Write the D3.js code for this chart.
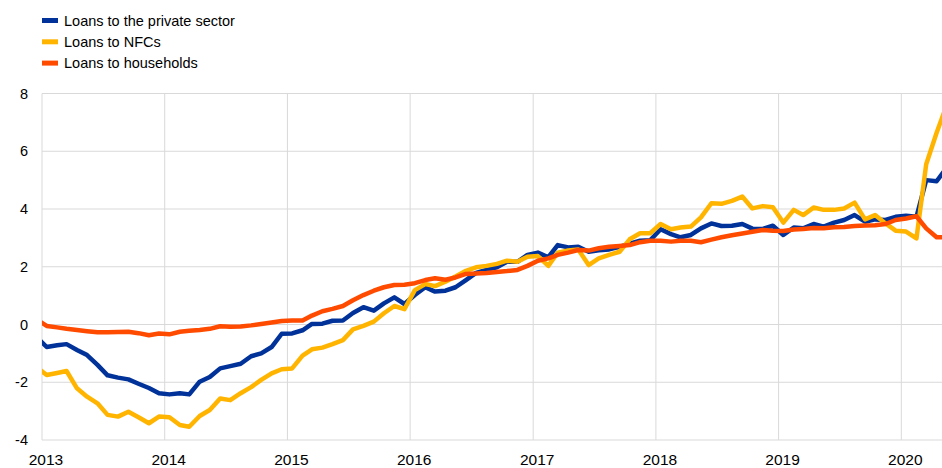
<!DOCTYPE html>
<html>
<head>
<meta charset="utf-8">
<script src="https://cdn.jsdelivr.net/npm/d3@7/dist/d3.min.js"></script>
<style>
  body { margin: 0; background: #fff; }
  svg { display: block; font-family: "Liberation Sans", Arial, sans-serif; }
</style>
</head>
<body>
<svg id="chart"></svg>
<script>
// monthly data, first value is Dec 2012, last is May 2020
const startMonth = new Date(2012, 11, 15);
const seriesNames = ['Loans to the private sector', 'Loans to NFCs', 'Loans to households'];
const seriesColors = ['#003299', '#ffb400', '#ff4b00'];
const yTicks = [-4, -2, 0, 2, 4, 6, 8];
const yearTicks = [2013, 2014, 2015, 2016, 2017, 2018, 2019, 2020];

const privateSector = [-0.42,
  -0.78, -0.72, -0.68, -0.88, -1.06, -1.40, -1.76, -1.84, -1.90, -2.05, -2.20, -2.38,
  -2.42, -2.38, -2.42, -1.98, -1.82, -1.52, -1.44, -1.36, -1.10, -1.00, -0.78, -0.32,
  -0.31, -0.20, 0.02, 0.03, 0.13, 0.14, 0.40, 0.60, 0.48, 0.73, 0.94, 0.71,
  1.02, 1.29, 1.14, 1.17, 1.29, 1.54, 1.79, 1.89, 1.98, 2.17, 2.17, 2.41,
  2.49, 2.33, 2.75, 2.67, 2.69, 2.52, 2.57, 2.60, 2.69, 2.80, 2.90, 2.92,
  3.30, 3.13, 3.02, 3.10, 3.33, 3.50, 3.41, 3.42, 3.48, 3.32, 3.31, 3.42,
  3.10, 3.36, 3.33, 3.48, 3.39, 3.53, 3.62, 3.79, 3.56, 3.64, 3.62, 3.73,
  3.77, 3.73, 5.00, 4.96, 5.43];

const nfcs = [-1.47,
  -1.75, -1.68, -1.61, -2.21, -2.50, -2.73, -3.13, -3.19, -3.02, -3.21, -3.42, -3.19,
  -3.21, -3.48, -3.54, -3.17, -2.96, -2.56, -2.62, -2.38, -2.17, -1.92, -1.69, -1.55,
  -1.52, -1.08, -0.86, -0.80, -0.68, -0.54, -0.17, -0.05, 0.10, 0.39, 0.64, 0.53,
  1.19, 1.40, 1.33, 1.48, 1.66, 1.86, 1.98, 2.03, 2.10, 2.21, 2.17, 2.35,
  2.37, 2.03, 2.49, 2.56, 2.60, 2.06, 2.29, 2.41, 2.52, 2.95, 3.16, 3.16,
  3.48, 3.30, 3.36, 3.39, 3.71, 4.20, 4.18, 4.28, 4.43, 4.02, 4.10, 4.06,
  3.53, 3.97, 3.79, 4.05, 3.97, 3.97, 4.02, 4.22, 3.64, 3.79, 3.50, 3.25,
  3.22, 2.98, 5.55, 6.64, 7.60];

const households = [0.18,
  -0.05, -0.10, -0.15, -0.19, -0.23, -0.27, -0.27, -0.26, -0.25, -0.30, -0.37, -0.31,
  -0.34, -0.25, -0.22, -0.19, -0.15, -0.06, -0.08, -0.07, -0.03, 0.02, 0.07, 0.12,
  0.14, 0.14, 0.31, 0.46, 0.54, 0.64, 0.84, 1.02, 1.17, 1.29, 1.37, 1.38,
  1.43, 1.54, 1.60, 1.55, 1.63, 1.75, 1.77, 1.78, 1.82, 1.85, 1.89, 2.03,
  2.21, 2.29, 2.41, 2.49, 2.58, 2.56, 2.64, 2.69, 2.72, 2.75, 2.85, 2.90,
  2.90, 2.87, 2.90, 2.90, 2.85, 2.94, 3.02, 3.09, 3.15, 3.21, 3.27, 3.25,
  3.24, 3.29, 3.31, 3.34, 3.33, 3.37, 3.38, 3.41, 3.43, 3.44, 3.48, 3.62,
  3.67, 3.75, 3.33, 3.02, 3.02];

const allSeries = [privateSector, nfcs, households];

const width = 942, height = 468;
const plotLeft = 42, plotRight = 942, plotTop = 93.5, plotBottom = 440;

const svg = d3.select('#chart')
  .attr('width', width)
  .attr('height', height);

const x = d3.scaleTime()
  .domain([new Date(2013, 0, 1), new Date(2020, 4, 1)])
  .range([plotLeft, plotRight]);
const y = d3.scaleLinear()
  .domain([-4, 8])
  .range([plotBottom, plotTop]);

// grid
svg.append('g')
  .selectAll('line')
  .data(yTicks)
  .enter().append('line')
  .attr('x1', plotLeft).attr('x2', plotRight)
  .attr('y1', d => y(d)).attr('y2', d => y(d))
  .attr('stroke', '#d9d9d9').attr('stroke-width', 1);

svg.append('g')
  .selectAll('line')
  .data(yearTicks)
  .enter().append('line')
  .attr('x1', d => x(new Date(d, 0, 1))).attr('x2', d => x(new Date(d, 0, 1)))
  .attr('y1', plotTop).attr('y2', plotBottom)
  .attr('stroke', '#d9d9d9').attr('stroke-width', 1);

// axis labels
svg.append('g')
  .selectAll('text')
  .data(yTicks)
  .enter().append('text')
  .attr('x', 28)
  .attr('y', d => y(d))
  .attr('dy', '0.35em')
  .attr('text-anchor', 'end')
  .attr('font-size', 14.5)
  .attr('fill', '#000')
  .text(d => d);

svg.append('g')
  .selectAll('text')
  .data(yearTicks)
  .enter().append('text')
  .attr('x', d => x(new Date(d, 0, 1)) + 4)
  .attr('y', 465)
  .attr('text-anchor', 'middle')
  .attr('font-size', 15.5)
  .attr('fill', '#000')
  .text(d => d);

// lines
svg.append('defs').append('clipPath').attr('id', 'plot-clip')
  .append('rect')
  .attr('x', plotLeft).attr('y', 0)
  .attr('width', plotRight - plotLeft).attr('height', height);

const line = d3.line()
  .x((d, i) => x(d3.timeMonth.offset(startMonth, i)))
  .y(d => y(d));

svg.append('g')
  .attr('clip-path', 'url(#plot-clip)')
  .selectAll('path')
  .data(allSeries)
  .enter().append('path')
  .attr('d', line)
  .attr('fill', 'none')
  .attr('stroke', (d, i) => seriesColors[i])
  .attr('stroke-width', 4.5)
  .attr('stroke-linejoin', 'round');

// legend
const legend = svg.append('g')
  .selectAll('g')
  .data(seriesNames)
  .enter().append('g')
  .attr('transform', (d, i) => `translate(42, ${20.5 + i * 21.3})`);

legend.append('line')
  .attr('x1', 0).attr('x2', 16)
  .attr('stroke', (d, i) => seriesColors[i])
  .attr('stroke-width', 5);

legend.append('text')
  .attr('x', 22)
  .attr('dy', '0.35em')
  .attr('font-size', 14.5)
  .attr('fill', '#000')
  .text(d => d);
</script>
</body>
</html>
